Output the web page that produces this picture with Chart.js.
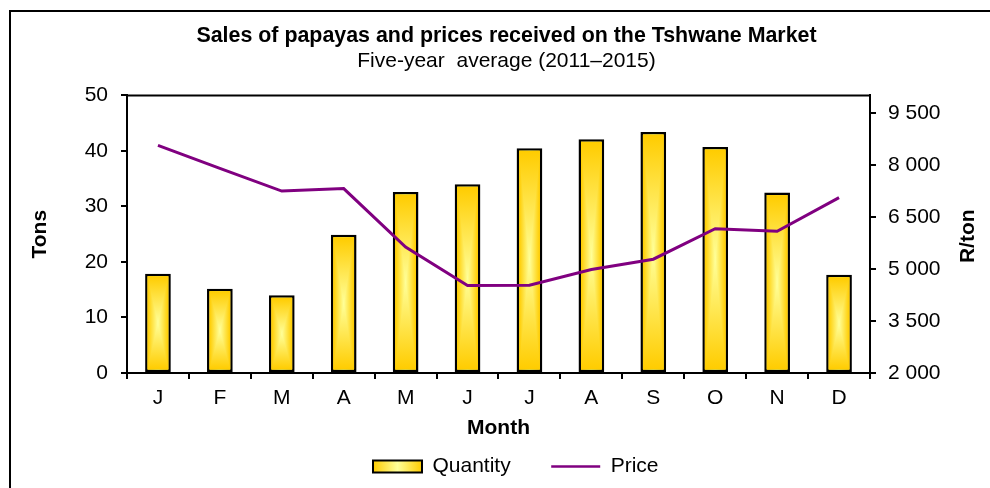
<!DOCTYPE html>
<html><head><meta charset="utf-8">
<script src="https://cdn.jsdelivr.net/npm/chart.js@4"></script>
<style>html,body{margin:0;padding:0;background:#fff;}canvas{display:block;}</style>
</head><body>
<canvas id="c" width="990" height="488"></canvas>
<script>
const months = ['J','F','M','A','M','J','J','A','S','O','N','D'];
const quantityTons = [17.9, 15.2, 14.0, 24.9, 32.6, 34.0, 40.5, 42.1, 43.4, 40.7, 32.5, 17.7];
const priceRandPerTon = [8560, 7900, 7245, 7315, 5630, 4520, 4530, 4985, 5280, 6160, 6085, 7055];
const tonsTicks = [0, 10, 20, 30, 40, 50];
const priceTicks = [2000, 3500, 5000, 6500, 8000, 9500];
const titleText = 'Sales of papayas and prices received on the Tshwane Market';
const subtitleText = 'Five-year  average (2011–2015)';
const xTitle = 'Month', yTitle = 'Tons', y1Title = 'R/ton';
const seriesNames = ['Quantity', 'Price'];

const FONT = "'Liberation Sans', Arial, sans-serif";
const GOLD = '#FFCC00', PALE = '#FFFF99', PURPLE = '#800080';
const LEGEND_X = 373, LEGEND_ROW_Y = 456;
const BAR_BORDER = 2.5;

Chart.defaults.font.family = FONT;
Chart.defaults.font.size = 21;
Chart.defaults.color = '#000';

function grad(ctx, x0, y0, x1, y1) {
  const g = ctx.createLinearGradient(x0, y0, x1, y1);
  g.addColorStop(0, GOLD); g.addColorStop(0.5, PALE); g.addColorStop(1, GOLD);
  return g;
}
function fmt(v) { return String(v).replace(/\B(?=(\d{3})+(?!\d))/g, ' '); }

const decor = {
  id: 'decor',
  afterLayout(chart) {
    const lg = chart.legend; if (!lg || !lg.lineWidths) return;
    const p = lg.options.labels.padding;
    const start = (lg.left + p + lg.right - lg.lineWidths[0]) / 2;
    const dx = LEGEND_X - start; lg.left += dx; lg.right += dx;
    lg.top = LEGEND_ROW_Y - p;
    lg.height = 21 + 2 * p;
    lg.bottom = lg.top + lg.height;
  },
  beforeDraw(chart) {
    const c = chart.ctx;
    c.save();
    c.fillStyle = '#fff'; c.fillRect(0, 0, chart.width, chart.height);
    c.strokeStyle = '#000'; c.lineWidth = 2;
    c.strokeRect(10, 11, chart.width + 40, chart.height + 40);
    c.restore();
    const lg = chart.legend;
    if (lg && lg.legendItems && lg.legendHitBoxes && lg.legendHitBoxes.length) {
      const hb = lg.legendHitBoxes[0];
      const bw = lg.options.labels.pointStyleWidth;
      lg.legendItems[0].fillStyle = grad(c, hb.left, 0, hb.left + bw, 0);
    }
  },
  beforeDatasetsDraw(chart) {
    const a = chart.chartArea, c = chart.ctx;
    c.save(); c.strokeStyle = '#000'; c.lineWidth = 2;
    c.beginPath(); c.moveTo(a.left, a.top); c.lineTo(a.right, a.top); c.stroke();
    c.restore();
  },
  afterDatasetDraw(chart, args) {
    if (args.index !== 0) return;
    const c = chart.ctx, bw = BAR_BORDER;
    args.meta.data.forEach(el => {
      const {x, y, base, width} = el.getProps(['x', 'y', 'base', 'width'], true);
      const l = x - width / 2 + bw, r = x + width / 2 - bw;
      const t = Math.min(y, base) + bw, b = Math.max(y, base) - bw;
      if (r <= l || b <= t) return;
      c.save();
      c.fillStyle = grad(c, l, 0, r, 0); c.fillRect(l, t, r - l, b - t);
      c.globalCompositeOperation = 'darken';
      c.fillStyle = grad(c, 0, t, 0, b); c.fillRect(l, t, r - l, b - t);
      c.restore();
    });
  },
  afterDraw(chart) {
    const c = chart.ctx, s = chart.scales.y1;
    c.save();
    c.font = 'bold 21px ' + FONT; c.fillStyle = '#000';
    c.textAlign = 'center'; c.textBaseline = 'middle';
    c.translate(968, (s.top + s.bottom) / 2 + 2);
    c.rotate(-Math.PI / 2);
    c.fillText(y1Title, 0, 0);
    c.restore();
  }
};

const axisGrid = {drawOnChartArea: false, drawTicks: true, tickLength: 6, color: '#000', lineWidth: 2};
const axisBorder = {display: true, color: '#000', width: 2};

new Chart(document.getElementById('c'), {
  data: {
    labels: months,
    datasets: [
      {type: 'bar', label: seriesNames[0], data: quantityTons, yAxisID: 'y', order: 1,
       backgroundColor: GOLD, borderColor: '#000', borderWidth: BAR_BORDER, borderSkipped: false,
       barPercentage: 0.415, categoryPercentage: 1},
      {type: 'line', label: seriesNames[1], data: priceRandPerTon, yAxisID: 'y1', order: 0,
       borderColor: PURPLE, backgroundColor: PURPLE, borderWidth: 3, pointRadius: 0, tension: 0, fill: false}
    ]
  },
  options: {
    responsive: false, animation: false, devicePixelRatio: 1, events: [],
    layout: {padding: {left: 23, right: 0, top: 23, bottom: 43}},
    plugins: {
      tooltip: {enabled: false},
      title: {display: true, text: titleText, font: {size: 21.4, weight: 'bold'}, color: '#000', padding: {top: 0, bottom: 0}},
      subtitle: {display: true, text: subtitleText, font: {size: 21}, color: '#000', padding: {top: 0, bottom: 21.6}},
      legend: {
        display: true, position: 'bottom', maxHeight: 2,
        labels: {
          usePointStyle: true, pointStyleWidth: 49, boxHeight: 12, padding: 40.5,
          font: {size: 21}, color: '#000',
          sort: (a, b) => a.datasetIndex - b.datasetIndex,
          generateLabels(chart) {
            const ds = chart.data.datasets;
            return [
              {text: ds[0].label, fillStyle: GOLD, strokeStyle: '#000', lineWidth: 2, pointStyle: 'rect', rotation: 0, hidden: false, datasetIndex: 0},
              {text: ds[1].label, fillStyle: PURPLE, strokeStyle: PURPLE, lineWidth: 2.5, pointStyle: 'line', rotation: 0, hidden: false, datasetIndex: 1}
            ];
          }
        }
      }
    },
    scales: {
      x: {
        type: 'category', offset: true,
        grid: Object.assign({offset: true}, axisGrid), border: axisBorder,
        ticks: {padding: 7, font: {size: 21}, color: '#000', maxRotation: 0, autoSkip: false},
        title: {display: true, text: xTitle, font: {size: 21, weight: 'bold'}, color: '#000', padding: {top: 0, bottom: 2}},
        afterFit(s) { s.height = 70; }
      },
      y: {
        type: 'linear', position: 'left', min: 0, max: 50,
        afterBuildTicks(s) { s.ticks = tonsTicks.map(v => ({value: v})); },
        grid: axisGrid, border: axisBorder,
        ticks: {padding: 13, font: {size: 21}, color: '#000'},
        title: {display: true, text: yTitle, font: {size: 21, weight: 'bold'}, color: '#000', padding: {top: 5, bottom: 0}},
        afterFit(s) { s.width = 104; }
      },
      y1: {
        type: 'linear', position: 'right', min: 2000, max: 10000,
        afterBuildTicks(s) { s.ticks = priceTicks.map(v => ({value: v})); },
        grid: axisGrid, border: axisBorder,
        ticks: {padding: 12, font: {size: 21}, color: '#000', callback: v => fmt(v)},
        afterFit(s) { s.width = 120; }
      }
    }
  },
  plugins: [decor]
});
</script>
</body></html>
